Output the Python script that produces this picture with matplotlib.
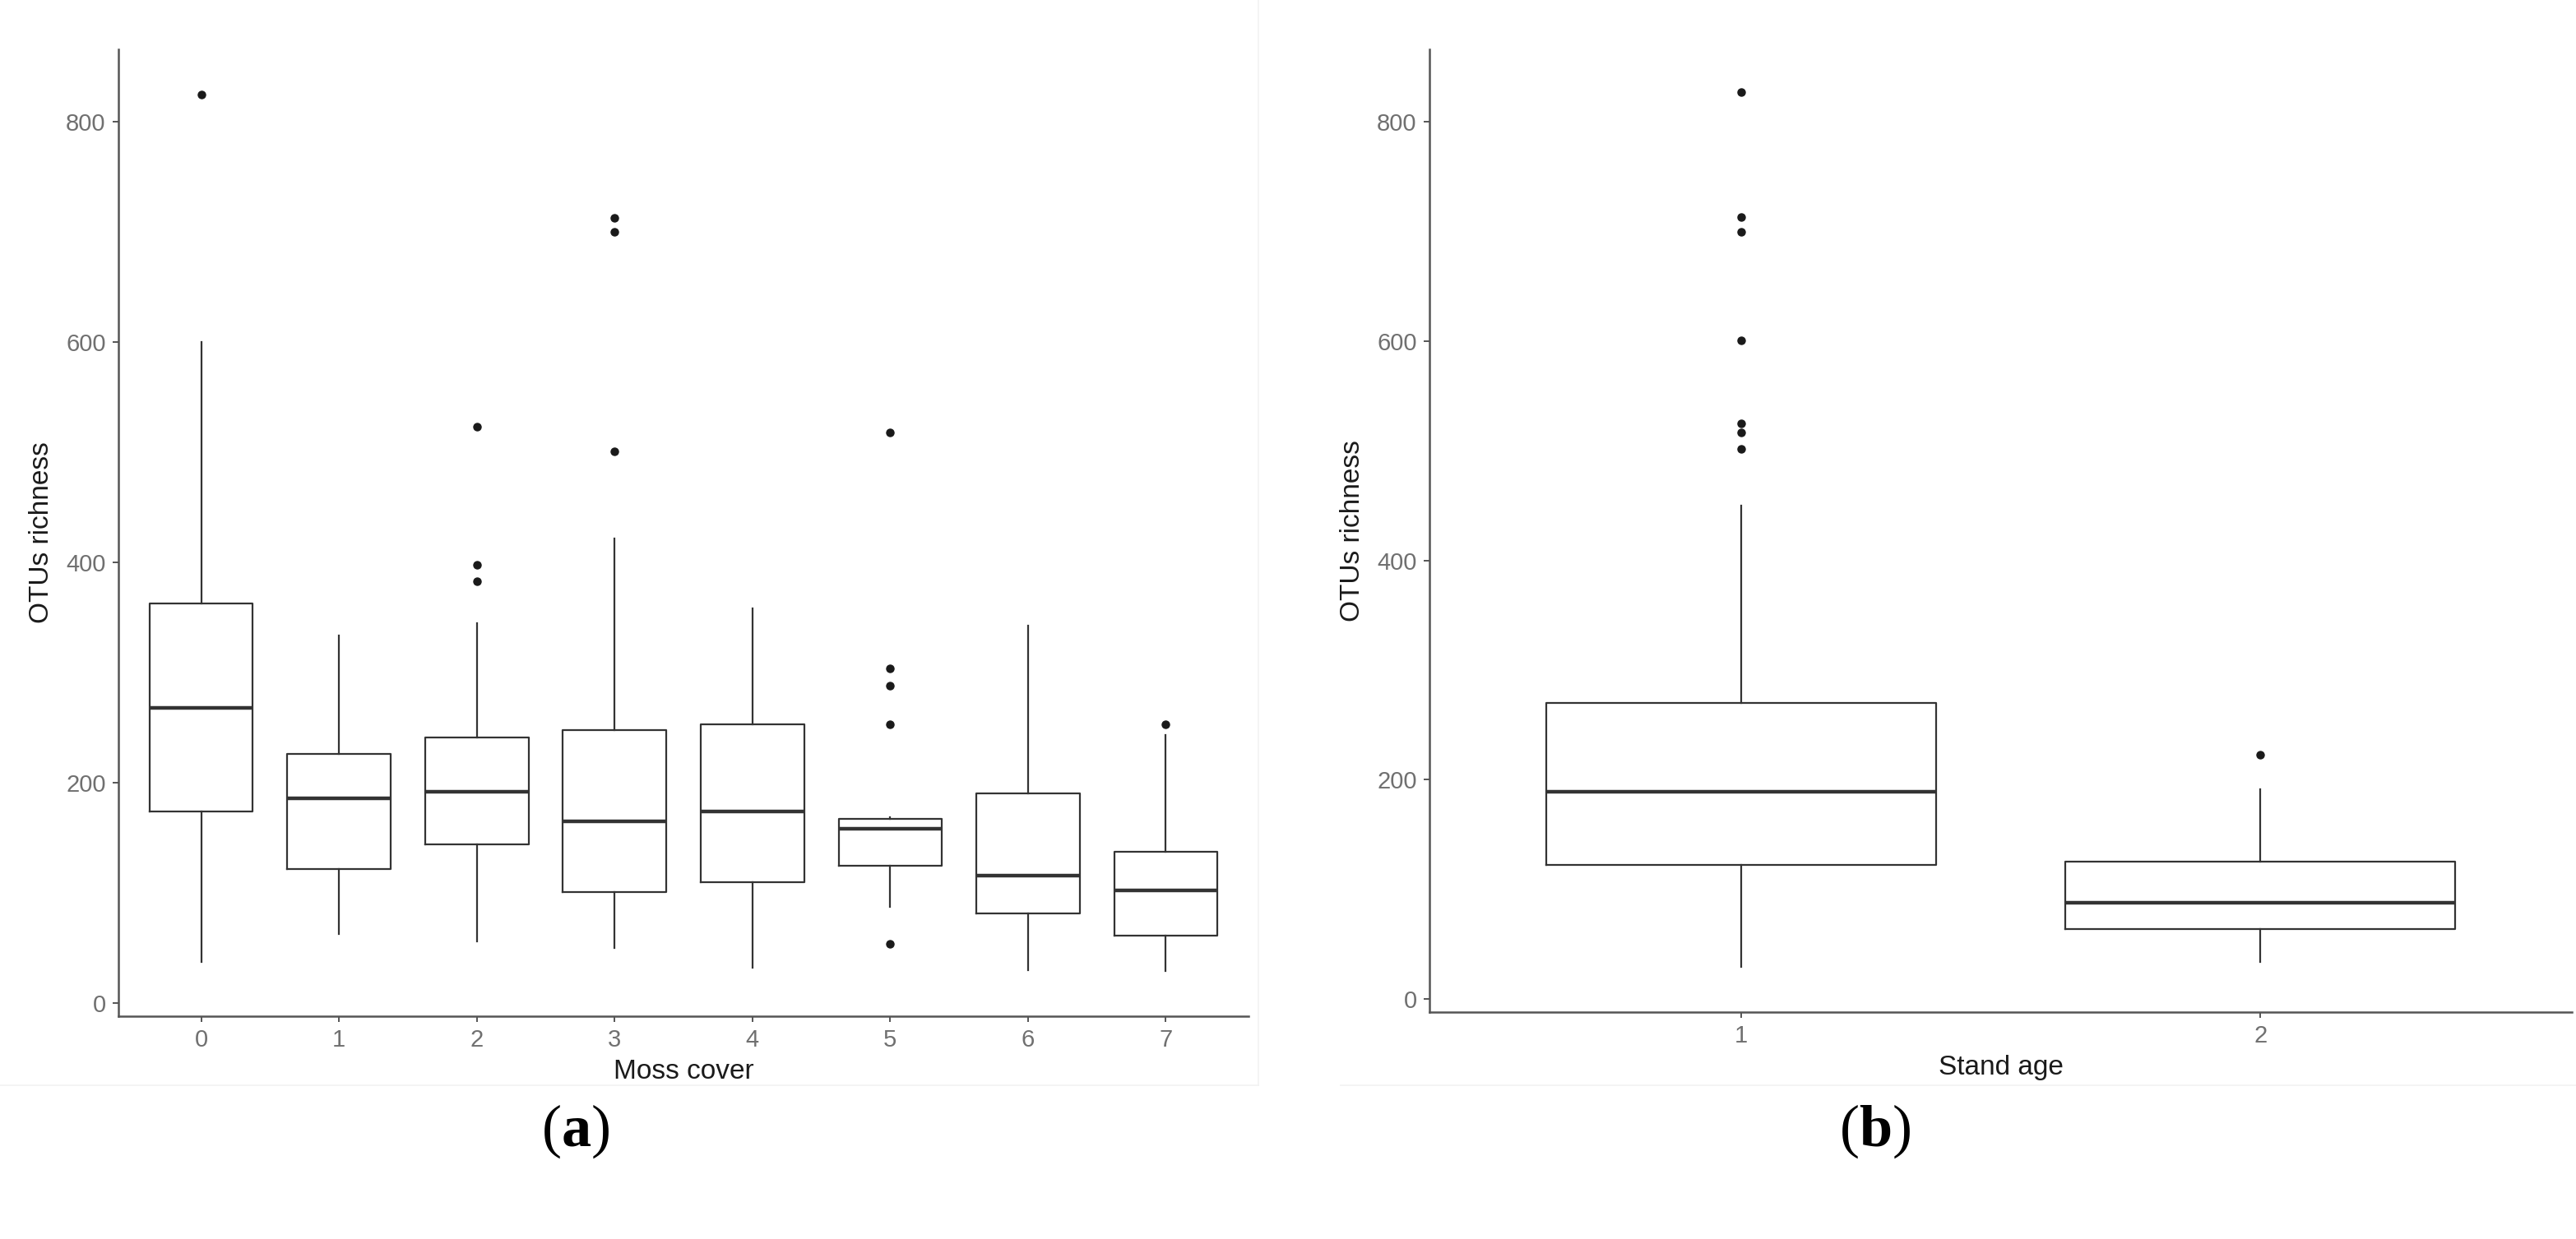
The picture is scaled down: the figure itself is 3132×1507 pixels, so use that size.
import matplotlib
matplotlib.use('Agg')
import matplotlib.pyplot as plt
from matplotlib.lines import Line2D

plt.rcParams['font.family'] = ['Liberation Sans', 'DejaVu Sans']
plt.rcParams['mathtext.fontset'] = 'custom'
plt.rcParams['mathtext.rm'] = 'Liberation Serif'
plt.rcParams['mathtext.bf'] = 'Liberation Serif:bold'

# (a) OTUs richness by moss cover class
moss_labels = ['0', '1', '2', '3', '4', '5', '6', '7']
moss_low = [37, 63, 56, 50, 32, 87, 30, 29]
moss_q1 = [174, 122, 144, 101, 110, 125, 81, 61]
moss_med = [268, 186, 192, 165, 174, 158, 116, 102]
moss_q3 = [363, 226, 241, 248, 253, 167, 190, 137]
moss_high = [600, 334, 345, 422, 358, 169, 343, 243]
moss_out = [[825], [], [523, 398, 383], [713, 700, 501], [],
            [518, 304, 288, 253, 54], [], [253]]

# (b) OTUs richness by stand age
age_labels = ['1', '2']
age_low = [29, 34]
age_q1 = [122, 64]
age_med = [189, 88]
age_q3 = [270, 125]
age_high = [450, 191]
age_out = [[827, 713, 700, 601, 525, 517, 502], [223]]

line_col = '#333333'


def make_stats(low, q1, med, q3, high, out):
    return [dict(whislo=a, q1=b, med=c, q3=d, whishi=e, fliers=f)
            for a, b, c, d, e, f in zip(low, q1, med, q3, high, out)]


def draw_panel(ax, stats, labels, xlabel):
    n = len(stats)
    ax.bxp(stats, positions=range(n), widths=0.75, showcaps=False,
           boxprops=dict(color=line_col, linewidth=1.6),
           whiskerprops=dict(color=line_col, linewidth=1.6),
           medianprops=dict(color=line_col, linewidth=3.2),
           flierprops=dict(marker='o', markerfacecolor='#1a1a1a',
                           markeredgecolor='#1a1a1a', markersize=6.5))
    ax.set_xlim(-0.6, n - 0.4)
    ax.set_ylim(-12, 866)
    ax.set_yticks([0, 200, 400, 600, 800])
    ax.set_xticks(range(n))
    ax.set_xticklabels(labels)
    for s in ['top', 'right']:
        ax.spines[s].set_visible(False)
    for s in ['left', 'bottom']:
        ax.spines[s].set_color('#555555')
        ax.spines[s].set_linewidth(1.8)
    ax.tick_params(colors='#555555', labelcolor='#707070', labelsize=21,
                   length=5, width=1.4, pad=6)
    ax.set_xlabel(xlabel, fontsize=24, color='#1a1a1a', labelpad=6)
    ax.set_ylabel('OTUs richness', fontsize=24, color='#1a1a1a', labelpad=10)


fig = plt.figure(figsize=(31.32, 15.07), dpi=100)
ax_a = fig.add_axes([0.04598, 0.1798, 0.4387, 0.7804])
ax_b = fig.add_axes([0.5549, 0.1831, 0.4435, 0.7770])

draw_panel(ax_a, make_stats(moss_low, moss_q1, moss_med, moss_q3, moss_high, moss_out),
           moss_labels, 'Moss cover')
draw_panel(ax_b, make_stats(age_low, age_q1, age_med, age_q3, age_high, age_out),
           age_labels, 'Stand age')

# faint edges of the pasted panel images
fig.add_artist(Line2D([1530 / 3132, 1530 / 3132], [1 - 1320 / 1507, 1.0],
                      color='#f2f2f2', linewidth=1.2))
fig.add_artist(Line2D([0.0, 1530 / 3132], [1 - 1320 / 1507] * 2,
                      color='#f2f2f2', linewidth=1.2))
fig.add_artist(Line2D([1630 / 3132, 1.0], [1 - 1320 / 1507] * 2,
                      color='#f2f2f2', linewidth=1.2))

fig.text(700 / 3132, 1 - 1376 / 1507, r'($\mathbf{a}$)', fontsize=52,
         family='Liberation Serif', ha='center', va='center')
fig.text(2280 / 3132, 1 - 1376 / 1507, r'($\mathbf{b}$)', fontsize=52,
         family='Liberation Serif', ha='center', va='center')

fig.savefig('out.png', dpi=100, facecolor='white')
